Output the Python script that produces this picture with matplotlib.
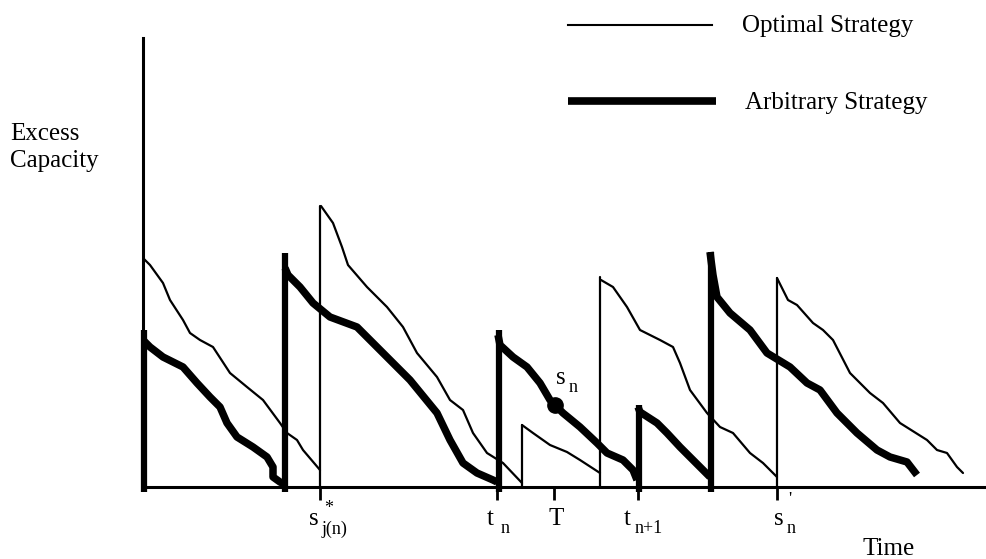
import matplotlib
matplotlib.use("Agg")
import matplotlib.pyplot as plt
import numpy as np

# ---------------- data (time offset, excess capacity) ----------------
# Optimal strategy (thin line): decay segments between replenishments
opt_seg1_x = [0, 7, 20, 27, 40, 47, 57, 70, 87, 104, 120, 137, 144, 154, 160, 177]
opt_seg1_y = [229, 222, 204, 187, 167, 154, 147, 140, 114, 100, 87, 64, 54, 47, 37, 17]
opt_seg2_x = [178, 190, 199, 205, 224, 244, 260, 274, 294, 307, 320, 330, 344, 360, 379]
opt_seg2_y = [281, 264, 240, 222, 200, 180, 160, 134, 110, 87, 77, 54, 34, 24, 4]
opt_seg3_x = [379, 390, 407, 424, 437, 457]
opt_seg3_y = [62, 54, 42, 35, 27, 14]
opt_seg4_x = [458, 470, 484, 497, 517, 530, 537, 547, 564, 577, 590, 607, 620, 634]
opt_seg4_y = [207, 200, 180, 157, 147, 140, 124, 97, 74, 60, 54, 34, 24, 10]
opt_seg5_x = [634, 645, 654, 670, 680, 690, 707, 727, 740, 757, 784, 794, 804, 814, 820]
opt_seg5_y = [209, 187, 182, 164, 157, 147, 114, 94, 84, 64, 47, 37, 34, 20, 14]
opt_jump_x = [177, 379, 457, 634]
opt_jump_top = [281, 62, 210, 209]

# Arbitrary strategy (thick line)
arb_seg1_x = [0, 7, 20, 40, 54, 67, 77, 84, 94, 110, 124, 130, 130, 137, 141]
arb_seg1_y = [147, 140, 130, 120, 104, 90, 80, 64, 50, 40, 30, 20, 10, 5, 3]
arb_seg2_x = [142, 145, 157, 170, 187, 214, 227, 247, 267, 294, 307, 320, 334, 350, 354]
arb_seg2_y = [219, 212, 200, 184, 170, 160, 147, 127, 107, 74, 47, 24, 14, 7, 5]
arb_seg3_x = [355, 357, 370, 384, 397, 407, 420, 437, 454, 464, 480, 490, 494]
arb_seg3_y = [152, 142, 130, 120, 104, 87, 74, 60, 44, 34, 27, 17, 7]
arb_seg4_x = [495, 497, 514, 524, 537, 550, 567]
arb_seg4_y = [80, 75, 64, 54, 40, 27, 10]
arb_seg5_x = [567, 568, 570, 574, 587, 607, 624, 647, 664, 677, 694, 714, 734, 747, 764, 774]
arb_seg5_y = [235, 227, 212, 190, 174, 157, 134, 120, 104, 97, 74, 54, 37, 30, 25, 12]
arb_jump_x = [0, 141, 355, 495, 567]
arb_jump_top = [157, 234, 157, 82, 235]

sn_point = (412, 82)

tick_pos = [177, 354, 411, 495, 634]

# ---------------- figure ----------------
W, H = 987, 559
fig = plt.figure(figsize=(W / 100, H / 100), dpi=100)
ax = fig.add_axes([143 / W, (H - 487) / H, 842 / W, 449 / H])
ax.set_xlim(0, 842)
ax.set_ylim(0, 449)
for s in ["top", "right"]:
    ax.spines[s].set_visible(False)
for s in ["left", "bottom"]:
    ax.spines[s].set_linewidth(2.2)
    ax.spines[s].set_color("black")
ax.set_yticks([])
ax.set_xticks(tick_pos)
ax.set_xticklabels([])
ax.tick_params(axis="x", direction="out", length=9, width=2, color="black")

thin = dict(color="black", lw=1.6, solid_joinstyle="round", solid_capstyle="round")
thick = dict(color="black", lw=5.4, solid_joinstyle="round", solid_capstyle="butt")

for xs, ys in [(opt_seg1_x, opt_seg1_y), (opt_seg2_x, opt_seg2_y), (opt_seg3_x, opt_seg3_y),
               (opt_seg4_x, opt_seg4_y), (opt_seg5_x, opt_seg5_y)]:
    ax.plot(xs, ys, **thin)
for x, top in zip(opt_jump_x, opt_jump_top):
    ax.plot([x, x], [0, top], **thin)

for xs, ys in [(arb_seg1_x, arb_seg1_y), (arb_seg2_x, arb_seg2_y), (arb_seg3_x, arb_seg3_y),
               (arb_seg4_x, arb_seg4_y), (arb_seg5_x, arb_seg5_y)]:
    ax.plot(xs, ys, **thick)
for x, top in zip(arb_jump_x, arb_jump_top):
    ax.plot([x + 1, x + 1], [-5, top], clip_on=False, color="black", lw=4.5, solid_capstyle="butt")

ax.plot([sn_point[0]], [sn_point[1]], "o", color="black", ms=11)


def px(x, y):
    return x / W, 1 - y / H


FONT = "Liberation Serif"
big = 18
small = 13

# sn label
fig.text(*px(556, 384), "s", fontsize=big, family=FONT, ha="left", va="baseline")
fig.text(*px(569, 392), "n", fontsize=small, family=FONT, ha="left", va="baseline")

# legend
fig.add_artist(plt.Line2D([568 / W, 712 / W], [1 - 25 / H, 1 - 25 / H], color="black", lw=1.5))
fig.add_artist(plt.Line2D([568 / W, 716 / W], [1 - 101 / H, 1 - 101 / H], color="black", lw=5.5,
                          solid_capstyle="butt"))
fig.text(*px(742, 32), "Optimal Strategy", fontsize=big, family=FONT, ha="left", va="baseline")
fig.text(*px(745, 109), "Arbitrary Strategy", fontsize=big, family=FONT, ha="left", va="baseline")

# axis titles
fig.text(*px(10, 140), "Excess", fontsize=big, family=FONT, ha="left", va="baseline")
fig.text(*px(10, 167), "Capacity", fontsize=big, family=FONT, ha="left", va="baseline")
fig.text(*px(863, 555), "Time", fontsize=big, family=FONT, ha="left", va="baseline")

# tick labels
fig.text(*px(309, 525), "s", fontsize=big, family=FONT, ha="left", va="baseline")
fig.text(*px(324, 513), "*", fontsize=small, family=FONT, ha="left", va="baseline")
fig.text(*px(322, 534), "j(n)", fontsize=small, family=FONT, ha="left", va="baseline")

fig.text(*px(487, 525), "t", fontsize=big, family=FONT, ha="left", va="baseline")
fig.text(*px(501, 533), "n", fontsize=small, family=FONT, ha="left", va="baseline")

fig.text(*px(549, 525), "T", fontsize=big, family=FONT, ha="left", va="baseline")

fig.text(*px(624, 525), "t", fontsize=big, family=FONT, ha="left", va="baseline")
fig.text(*px(635, 533), "n+1", fontsize=small, family=FONT, ha="left", va="baseline")

fig.text(*px(774, 525), "s", fontsize=big, family=FONT, ha="left", va="baseline")
fig.text(*px(788, 505), "'", fontsize=small, family=FONT, ha="left", va="baseline")
fig.text(*px(787, 533), "n", fontsize=small, family=FONT, ha="left", va="baseline")

fig.savefig("out.png", dpi=100, facecolor="white")
